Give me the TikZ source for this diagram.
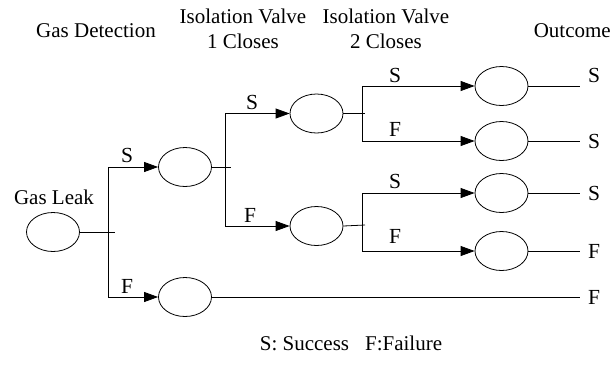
\documentclass[tikz,border=0pt]{standalone}
\usepackage{fontspec}
\setmainfont{Liberation Serif}
\usetikzlibrary{arrows.meta,shapes.geometric}
\begin{document}
\begin{tikzpicture}[x=1pt,y=-1pt,
  ev/.style={draw,ellipse,minimum width=53pt,minimum height=39pt,inner sep=0pt,line width=0.8pt},
  ln/.style={line width=0.8pt},
  arr/.style={line width=0.8pt,-{Triangle[length=14pt,width=10pt]}},
  txt/.style={inner sep=0pt,font=\fontsize{21}{25}\selectfont,anchor=base},
  lbl/.style={inner sep=0pt,font=\fontsize{21.5}{26}\selectfont,anchor=base}]
\useasboundingbox (0,0) rectangle (611,368);
% headers
\node[txt] (hgd) at (96,37) {Gas Detection};
\node[txt] (hv1a) at (243,23) {Isolation Valve};
\node[txt] (hv1b) at (243,48) {1 Closes};
\node[txt] (hv2a) at (386,23) {Isolation Valve};
\node[txt] (hv2b) at (386,48) {2 Closes};
\node[txt,anchor=base east] (hout) at (611,37) {Outcome};
% initiating event
\node[txt] (tleak) at (54,204) {Gas Leak};
\node[ev] (leak) at (53,232) {};
% gas detection
\node[ev] (gdS) at (185,167) {};
\node[ev] (gdF) at (185,297) {};
% valve 1
\node[ev] (v1S) at (316.5,113.5) {};
\node[ev] (v1F) at (316.5,226) {};
% valve 2
\node[ev] (o1) at (501.5,86) {};
\node[ev] (o2) at (501.5,141) {};
\node[ev] (o3) at (501.5,193) {};
\node[ev] (o4) at (501.5,251) {};
% junctions
\coordinate (j0) at (108,232); \coordinate (k0) at (115,232);
\coordinate (j1) at (225,167); \coordinate (k1) at (231,167);
\coordinate (j2) at (362,113.5); \coordinate (k2) at (365,113.5);
\coordinate (j3) at (362,225); \coordinate (k3) at (365,225);
% end points
\coordinate (e1) at (580,86);
\coordinate (e2) at (580,141);
\coordinate (e3) at (580,193);
\coordinate (e4) at (580,251);
\coordinate (e5) at (580,297);
% connectors
\draw[ln] (leak.east) -- (k0);
\draw[arr] (j0) |- (gdS.west);
\draw[arr] (j0) |- (gdF.west);
\draw[ln] (gdS.east) -- (k1);
\draw[arr] (j1) |- (v1S.west);
\draw[arr] (j1) |- (v1F.west);
\draw[ln] (v1S.east) -- (k2);
\draw[arr] (j2) |- (o1.west);
\draw[arr] (j2) |- (o2.west);
\draw[ln] (v1F.east) -- (k3);
\draw[arr] (j3) |- (o3.west);
\draw[arr] (j3) |- (o4.west);
\draw[ln] (o1.east) -- (e1);
\draw[ln] (o2.east) -- (e2);
\draw[ln] (o3.east) -- (e3);
\draw[ln] (o4.east) -- (e4);
\draw[ln] (gdF.east) -- (e5);
% branch labels
\node[lbl] (s1) at (127,162) {S};
\node[lbl] (f1) at (127,293) {F};
\node[lbl] (s2) at (252,109) {S};
\node[lbl] (f2) at (250,222) {F};
\node[lbl] (s3) at (395,82) {S};
\node[lbl] (f3) at (395,136) {F};
\node[lbl] (s4) at (395,188) {S};
\node[lbl] (f4) at (395,243) {F};
% outcome labels
\node[lbl,anchor=base west] (r1) at (588,82) {S};
\node[lbl,anchor=base west] (r2) at (588,148) {S};
\node[lbl,anchor=base west] (r3) at (588,200) {S};
\node[lbl,anchor=base west] (r4) at (588,258) {F};
\node[lbl,anchor=base west] (r5) at (588,304) {F};
% legend
\node[txt] (leg) at (351,350) {S: Success\hspace{16pt}F:Failure};
\end{tikzpicture}
\end{document}
